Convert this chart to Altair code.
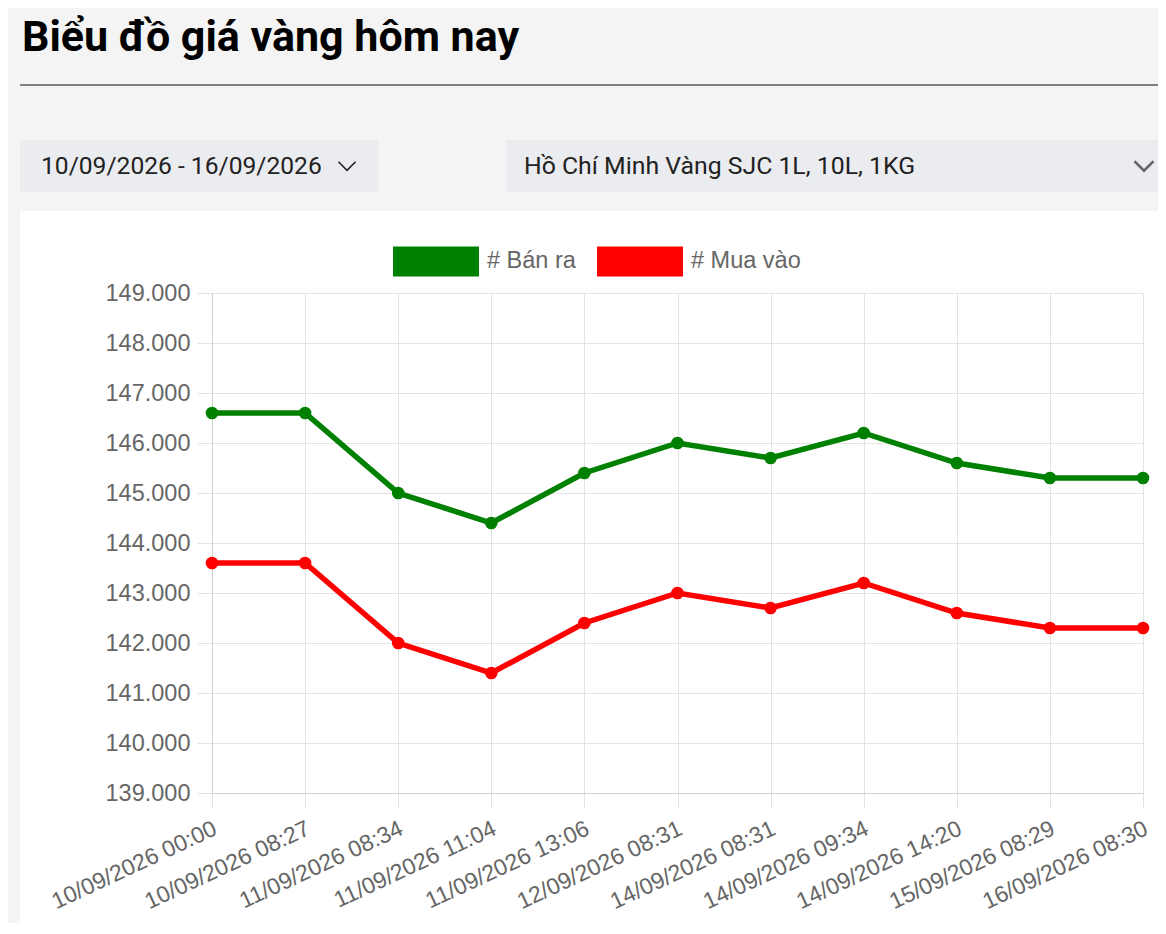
import altair as alt
import pandas as pd

# ---- data ----
times = [
    "10/09/2026 00:00", "10/09/2026 08:27", "11/09/2026 08:34", "11/09/2026 11:04",
    "11/09/2026 13:06", "12/09/2026 08:31", "14/09/2026 08:31", "14/09/2026 09:34",
    "14/09/2026 14:20", "15/09/2026 08:29", "16/09/2026 08:30",
]
ban_ra = [146600, 146600, 145000, 144400, 145400, 146000, 145700, 146200, 145600, 145300, 145300]
mua_vao = [143600, 143600, 142000, 141400, 142400, 143000, 142700, 143200, 142600, 142300, 142300]
series_names = ["# Bán ra", "# Mua vào"]
series_colors = ["#008000", "#ff0000"]
y_ticks = [139000, 140000, 141000, 142000, 143000, 144000, 145000, 146000, 147000, 148000, 149000]

page_title = "Biểu đồ giá vàng hôm nay"
range_label = "10/09/2026 - 16/09/2026"
product_label = "Hồ Chí Minh Vàng SJC 1L, 10L, 1KG"

rows = []
for t, b, m in zip(times, ban_ra, mua_vao):
    rows.append({"time": t, "series": series_names[0], "price": b})
    rows.append({"time": t, "series": series_names[1], "price": m})
df = pd.DataFrame(rows)

AX_FONT = "Liberation Sans"
GRID = "#e3e3e3"
DOMAIN = "#cfcfcf"
LBL = "#666666"

one = alt.Data(values=[{"k": 0}])

def rect(x, x2, y, y2, color):
    return alt.Chart(one).mark_rect(color=color).encode(
        x=alt.value(x), x2=alt.value(x2), y=alt.value(y), y2=alt.value(y2)
    )

def label(txt, x, y, size, color, weight="normal", font="Roboto"):
    return alt.Chart(one).mark_text(
        text=txt, font=font, fontSize=size, fontWeight=weight, color=color,
        align="left", baseline="alphabetic"
    ).encode(x=alt.value(x), y=alt.value(y))

def chevron(x, y, size, color, width):
    return alt.Chart(one).mark_point(
        shape="M-1,-0.5L0,0.5L1,-0.5", filled=False, size=size, color=color,
        strokeWidth=width, opacity=1
    ).encode(x=alt.value(x), y=alt.value(y))

# page decoration (gray page area, separator, selectors)
deco = [
    rect(-204, 946, -285, -82, "#f4f4f4"),
    rect(-204, -192, -82, 640, "#f4f4f4"),
    rect(-192, 954, -209, -207, "#7f7f7f"),
    rect(-192, 166, -153, -101, "#ebecef"),
    rect(294, 954, -153, -101, "#ebecef"),
    label(page_title, -190, -242, 43, "#000000", weight="bold"),
    label(range_label, -171, -119, 24.6, "#222222"),
    label(product_label, 312, -119, 24.8, "#222222"),
    chevron(135, -127, 289, "#222222", 1.6),
    chevron(932, -127, 361, "#666666", 2.5),
]

legend = alt.Legend(
    orient="none", legendX=181, legendY=-75, direction="horizontal", title=None,
    symbolType="M-1,-0.349H1V0.349H-1Z", symbolSize=7396, symbolStrokeWidth=0,
    symbolOpacity=1, labelFont=AX_FONT, labelFontSize=23.5, labelColor=LBL,
    labelOffset=8, columnPadding=21, padding=0, offset=0,
)
cscale = alt.Scale(domain=series_names, range=series_colors)

x_enc = alt.X(
    "time:N", sort=times,
    scale=alt.Scale(type="point", padding=0),
    axis=alt.Axis(
        title=None, grid=True, labelAngle=-25, labelAlign="right", labelBaseline="middle",
        labelFont=AX_FONT, labelFontSize=23, labelColor=LBL, labelOverlap=False,
        labelLimit=400, labelPadding=19, labelOffset=3, tickSize=15, tickColor=GRID,
        gridColor=GRID, domainColor=DOMAIN,
    ),
)
y_enc = alt.Y(
    "price:Q",
    scale=alt.Scale(domain=[139000, 149000], nice=False, zero=False),
    axis=alt.Axis(
        title=None, values=y_ticks,
        labelExpr="replace(format(datum.value, ',.0f'), ',', '.')",
        labelFont=AX_FONT, labelFontSize=23.5, labelColor=LBL,
        labelPadding=7, tickSize=15, tickColor=GRID, gridColor=GRID, domainColor=DOMAIN,
    ),
)

base = alt.Chart(df)
lines = base.mark_line(strokeWidth=5.5).encode(
    x=x_enc, y=y_enc,
    color=alt.Color("series:N", scale=cscale, legend=legend),
)
points = base.mark_point(filled=True, size=160, opacity=1).encode(
    x=x_enc, y=y_enc,
    fill=alt.Fill("series:N", scale=cscale, legend=legend),
)

chart = alt.layer(*deco, lines, points).properties(
    width=931, height=500,
    autosize=alt.AutoSizeParams(type="none"),
    padding={"left": 204, "top": 285, "right": 15, "bottom": 130},
).configure(background="#ffffff").configure_view(stroke=None)

chart.save("out.html", embed_options={"renderer": "svg", "actions": False})
